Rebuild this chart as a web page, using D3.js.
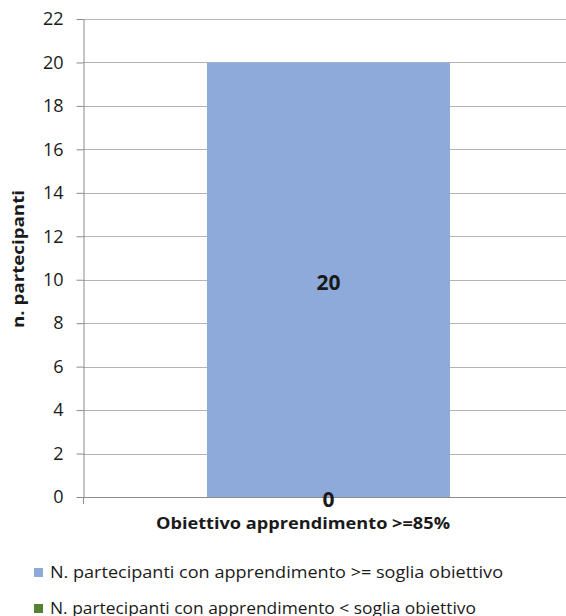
<!DOCTYPE html>
<html>
<head>
<meta charset="utf-8">
<script src="https://cdn.jsdelivr.net/npm/d3@7"></script>
<style>
  body { margin: 0; background: #fff; }
  text { font-family: "Open Sans", "DejaVu Sans", sans-serif; fill: #1a1a1a; }
</style>
</head>
<body>
<div id="chart"></div>
<script>
// chart data
const categories = ["Obiettivo apprendimento >=85%"];
const seriesNames = [
    "N. partecipanti con apprendimento >= soglia obiettivo",
    "N. partecipanti con apprendimento < soglia obiettivo"
];
const seriesAbove = [20];
const seriesBelow = [0];
const seriesColors = ["#8eaadb", "#548235"];
const yTicks = [0, 2, 4, 6, 8, 10, 12, 14, 16, 18, 20, 22];

const width = 566, height = 616;
const plot = {left: 83, right: 574, top: 19, bottom: 497};

const svg = d3.select("#chart")
    .append("svg")
    .attr("width", width)
    .attr("height", height);

// build stack rows (the "below" series sits at the base, like excel draws it)
const rows = categories.map(function (c, i) {
    return {cat: c, above: seriesAbove[i], below: seriesBelow[i]};
});
const stack = d3.stack().keys(["below", "above"]);
const stacked = stack(rows);
const colorOf = {below: seriesColors[1], above: seriesColors[0]};

const x = d3.scaleBand()
    .domain(categories)
    .range([plot.left, plot.right]);

const y = d3.scaleLinear()
    .domain([0, 22])
    .range([plot.bottom, plot.top]);

const barW = x.bandwidth() * 0.495;

// gridlines
svg.append("g")
    .selectAll("line")
    .data(yTicks.slice(1))
    .enter()
    .append("line")
    .attr("x1", plot.left)
    .attr("x2", width)
    .attr("y1", function (d) { return Math.round(y(d)) + 0.5; })
    .attr("y2", function (d) { return Math.round(y(d)) + 0.5; })
    .attr("stroke", "#b3b3b3")
    .attr("stroke-width", 1);

// bars
svg.append("g")
    .selectAll("g")
    .data(stacked)
    .enter()
    .append("g")
    .attr("fill", function (d) { return colorOf[d.key]; })
    .selectAll("rect")
    .data(function (d) { return d; })
    .enter()
    .append("rect")
    .attr("x", function (d) { return x(d.data.cat) + (x.bandwidth() - barW) / 2; })
    .attr("y", function (d) { return y(d[1]); })
    .attr("width", barW)
    .attr("height", function (d) { return y(d[0]) - y(d[1]); });

// y axis
const yAxis = svg.append("g")
    .attr("transform", "translate(" + (plot.left + 0.5) + ",0)")
    .call(d3.axisLeft(y).tickValues(yTicks).tickSize(7).tickPadding(13).tickSizeOuter(0));
yAxis.select(".domain").attr("stroke", "#8c8c8c");
yAxis.selectAll(".tick line").attr("stroke", "#8c8c8c");
yAxis.selectAll(".tick text")
    .style("font-size", "18px")
    .style("font-family", "\"Open Sans\", sans-serif")
    .attr("fill", "#1a1a1a");

// x axis line + left tick
svg.append("line")
    .attr("x1", plot.left)
    .attr("x2", width)
    .attr("y1", plot.bottom + 0.5)
    .attr("y2", plot.bottom + 0.5)
    .attr("stroke", "#8c8c8c");
svg.append("line")
    .attr("x1", plot.left + 0.5)
    .attr("x2", plot.left + 0.5)
    .attr("y1", plot.bottom)
    .attr("y2", plot.bottom + 7)
    .attr("stroke", "#8c8c8c");

// data labels
stacked.forEach(function (s) {
    svg.append("g")
        .selectAll("text")
        .data(s)
        .enter()
        .append("text")
        .attr("x", function (d) { return x(d.data.cat) + x.bandwidth() / 2; })
        .attr("y", function (d) { return (y(d[0]) + y(d[1])) / 2 + 2; })
        .attr("text-anchor", "middle")
        .attr("dominant-baseline", "central")
        .style("font-size", "21px")
        .style("font-weight", "bold")
        .text(function (d) { return d[1] - d[0]; });
});

// axis titles
svg.append("text")
    .attr("x", 303)
    .attr("y", 529)
    .attr("text-anchor", "middle")
    .attr("textLength", 294)
    .attr("lengthAdjust", "spacingAndGlyphs")
    .style("font-size", "16px")
    .style("font-weight", "bold")
    .text(categories[0]);

svg.append("text")
    .attr("transform", "translate(24,259) rotate(-90)")
    .attr("text-anchor", "middle")
    .attr("textLength", 138)
    .attr("lengthAdjust", "spacingAndGlyphs")
    .style("font-size", "16px")
    .style("font-weight", "bold")
    .text("n. partecipanti");

// legend
const legend = svg.append("g");
const legendItems = legend.selectAll("g")
    .data(seriesNames)
    .enter()
    .append("g")
    .attr("transform", function (d, i) { return "translate(34," + (572 + i * 36) + ")"; });
legendItems.append("rect")
    .attr("x", 0)
    .attr("y", -4)
    .attr("width", 9)
    .attr("height", 9)
    .attr("fill", function (d, i) { return seriesColors[i]; });
legendItems.append("text")
    .attr("x", 16)
    .attr("y", 0)
    .attr("dominant-baseline", "central")
    .attr("textLength", function (d, i) { return i === 0 ? 453 : 426; })
    .attr("lengthAdjust", "spacingAndGlyphs")
    .style("font-size", "16px")
    .text(function (d) { return d; });
</script>
</body>
</html>
